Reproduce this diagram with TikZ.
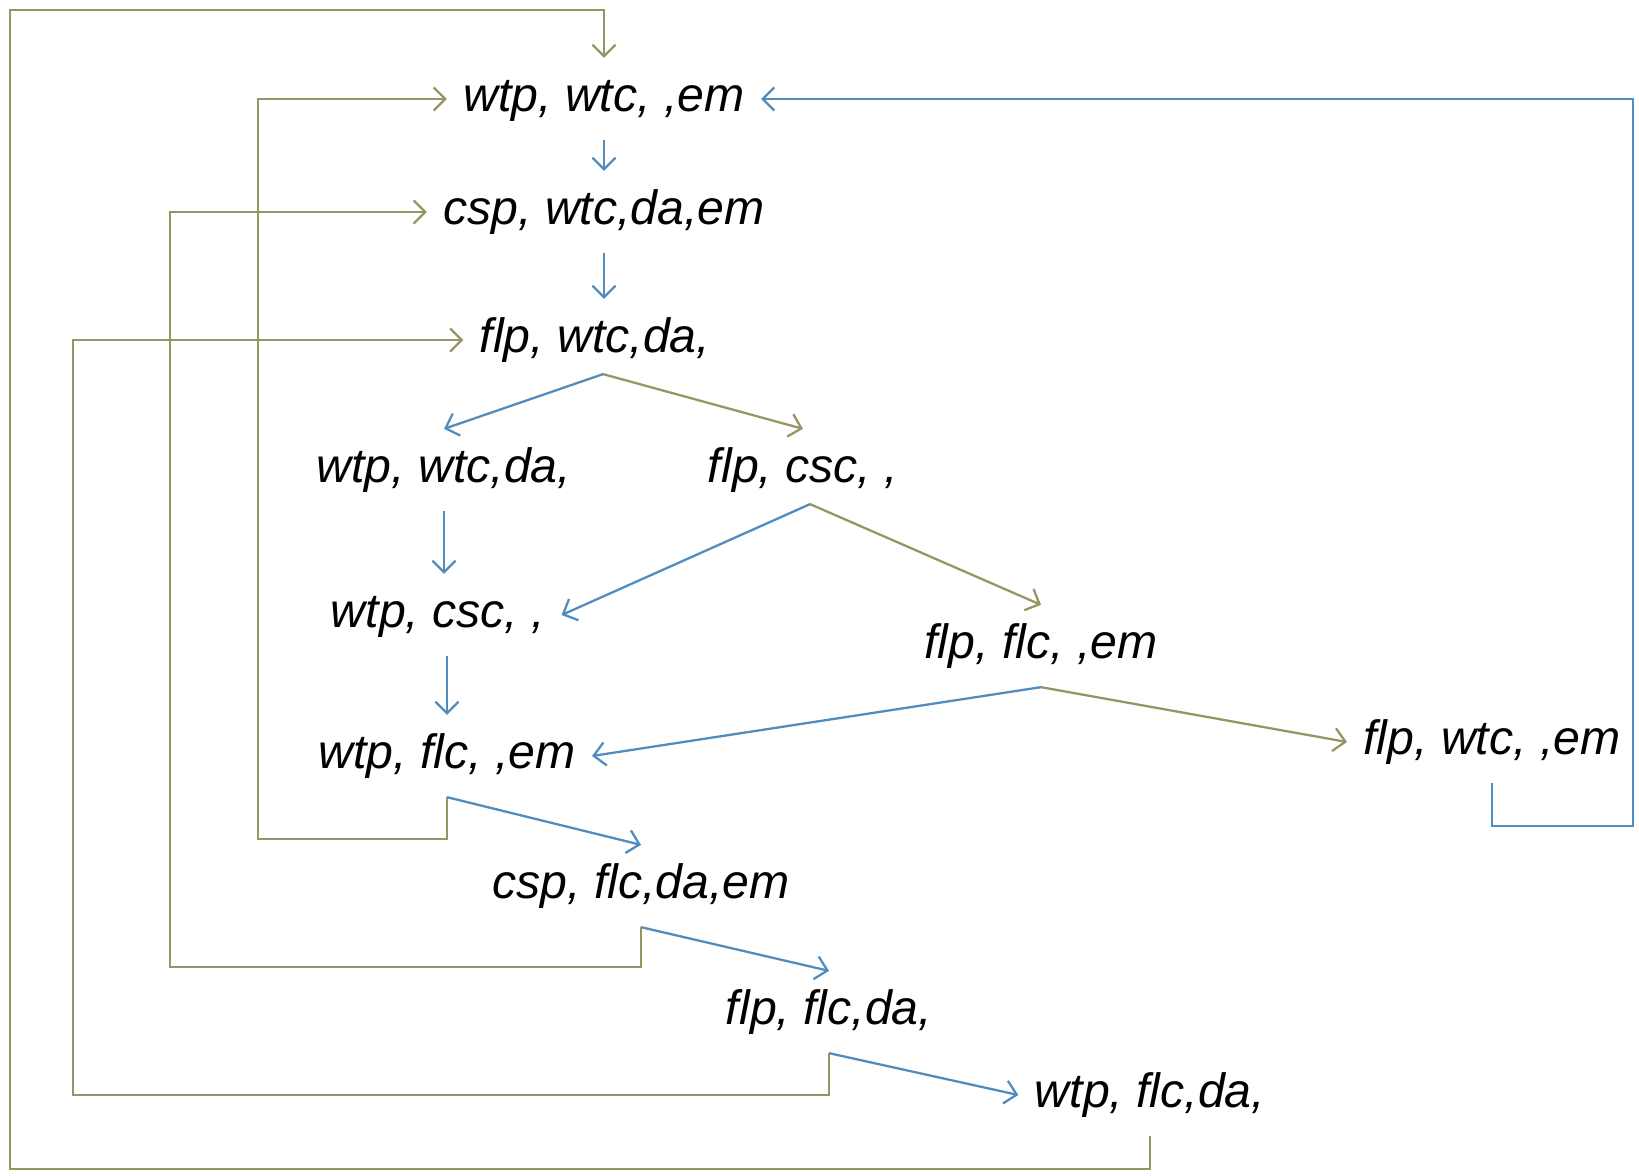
\documentclass[tikz,border=0pt]{standalone}
\usepackage{fontspec}
\setmainfont{Liberation Sans}
\usepackage{tikz}
\usetikzlibrary{arrows.meta}

\definecolor{loopolive}{RGB}{150,150,100}
\definecolor{stepblue}{RGB}{80,140,190}

\begin{document}
\begin{tikzpicture}[x=0.01cm, y=-0.01cm,
    state/.style={font=\fontsize{13.7}{16}\selectfont\itshape, inner xsep=4.5pt, inner ysep=5pt,
      text height=10pt, text depth=3pt},
    oliveline/.style={draw=loopolive, line width=0.65pt, -{Straight Barb[length=3.3pt,width=6.6pt]}},
    blueline/.style={draw=stepblue, line width=0.65pt, -{Straight Barb[length=3.3pt,width=6.6pt]}}]

  \useasboundingbox (0,0) rectangle (1639,1175);

  % States
  \node[state] (A) at (604,99) {wtp, wtc, ,em};
  \node[state] (B) at (604,212) {csp, wtc,da,em};
  \node[state] (C) at (595,340) {flp, wtc,da,};
  \node[state] (D) at (444,470) {wtp, wtc,da,};
  \node[state] (E) at (803,470) {flp, csc, ,};
  \node[state] (F) at (438,615) {wtp, csc, ,};
  \node[state] (G) at (1041,646) {flp, flc, ,em};
  \node[state] (H) at (447,756) {wtp, flc, ,em};
  \node[state] (I) at (1492,742) {flp, wtc, ,em};
  \node[state] (J) at (641,886) {csp, flc,da,em};
  \node[state] (K) at (829,1012) {flp, flc,da,};
  \node[state] (L) at (1150,1095) {wtp, flc,da,};

  % Loop corners
  \coordinate (outerBL) at (10,1169);
  \coordinate (outerTL) at (10,10);
  \coordinate (kcorner) at (73,1095);
  \coordinate (jcorner) at (170,967);
  \coordinate (hcorner) at (258,839);
  \coordinate (icorner) at (1633,826);

  % Main chain
  \draw[blueline] (A.south) -- (B.north);
  \draw[blueline] (B.south) -- (B.south |- C.north);
  \draw[blueline] ([xshift=2.3pt,yshift=2pt]C.south) -- (D.north);
  \draw[oliveline] ([xshift=2.3pt,yshift=2pt]C.south) -- (E.north);
  \draw[blueline] (D.south) -- (D.south |- F.north);
  \draw[blueline] ([xshift=2pt,yshift=2pt]E.south) -- (F.east);
  \draw[oliveline] ([xshift=2pt,yshift=2pt]E.south) -- (G.north);
  \draw[blueline] (H.north |- F.south) -- (H.north);
  \draw[blueline] (G.south) -- (H.east);
  \draw[oliveline] (G.south) -- (I.west);
  \draw[blueline] (H.south) -- (J.north);
  \draw[blueline] (J.south) -- (K.north);
  \draw[blueline] (K.south) -- (L.west);

  % Feedback loops
  \draw[oliveline] (L.south) |- (outerBL) -- (outerTL) -| (A.north);
  \draw[oliveline] (K.south) |- (kcorner) |- (C.west);
  \draw[oliveline] (J.south) |- (jcorner) |- (B.west);
  \draw[oliveline] (H.south) |- (hcorner) |- (A.west);
  \draw[blueline] (I.south) |- (icorner) |- (A.east);

\end{tikzpicture}
\end{document}
